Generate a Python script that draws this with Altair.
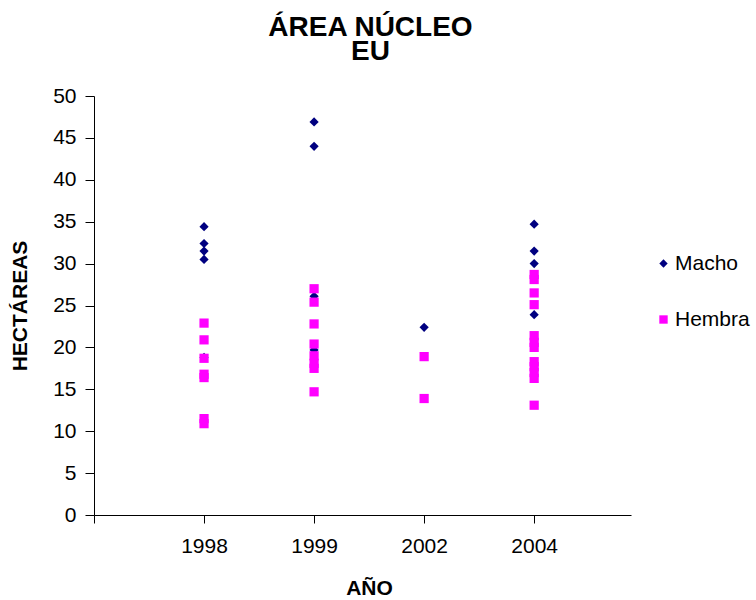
import altair as alt
import pandas as pd

years = ["1998", "1999", "2002", "2004"]

macho_1998 = [34.4, 32.4, 31.5, 30.5, 18.8]
macho_1999 = [46.9, 44.0, 26.1, 19.7]
macho_2002 = [22.4]
macho_2004 = [34.7, 31.5, 30.0, 23.9]

hembra_1998 = [22.9, 20.9, 18.7, 16.8, 16.4, 11.5, 10.9]
hembra_1999 = [27.0, 25.4, 22.8, 20.4, 19.0, 18.1, 17.5, 14.7]
hembra_2002 = [18.9, 13.9]
hembra_2004 = [28.7, 28.1, 26.5, 25.1, 21.4, 20.6, 20.0, 18.3, 17.7, 17.0, 16.3, 13.1]

macho = [macho_1998, macho_1999, macho_2002, macho_2004]
hembra = [hembra_1998, hembra_1999, hembra_2002, hembra_2004]

rows = []
for i, vals in enumerate(macho):
    for v in vals:
        rows.append({"pos": i + 1, "ha": v, "sexo": "Macho"})
for i, vals in enumerate(hembra):
    for v in vals:
        rows.append({"pos": i + 1, "ha": v, "sexo": "Hembra"})
df = pd.DataFrame(rows)

FONT = "Liberation Sans"
label_expr = "datum.value == 0 ? '' : " + str([""] + years) + "[datum.value]"

leg = alt.Legend(title=None, orient="none", legendX=559, legendY=157,
                 labelFontSize=21, labelFont=FONT, labelColor="#000000",
                 symbolSize=70, labelOffset=1, rowPadding=34, padding=0)

chart = alt.Chart(df).mark_point(filled=True, opacity=1, size=85).encode(
    x=alt.X("pos:Q",
            scale=alt.Scale(domain=[0, 4.88], nice=False, zero=False),
            axis=alt.Axis(values=[0, 1, 2, 3, 4], labelExpr=label_expr, title="AÑO",
                          grid=False, tickSize=8, labelPadding=12, titlePadding=21,
                          titleX=275)),
    y=alt.Y("ha:Q",
            scale=alt.Scale(domain=[0, 50], nice=False),
            axis=alt.Axis(values=list(range(0, 51, 5)), title="HECTÁREAS",
                          grid=False, tickSize=9, labelPadding=9, titlePadding=22)),
    color=alt.Color("sexo:N",
                    scale=alt.Scale(domain=["Macho", "Hembra"], range=["#000080", "#FF00FF"]),
                    legend=leg),
    shape=alt.Shape("sexo:N",
                    scale=alt.Scale(domain=["Macho", "Hembra"], range=["diamond", "square"]),
                    legend=leg),
).properties(
    width=537,
    height=419,
    autosize="none",
    background="white",
    padding={"left": 94, "top": 96, "right": 125, "bottom": 85},
    title=alt.Title(["ÁREA NÚCLEO", "EU"], fontSize=28, font=FONT, fontWeight="bold",
                    lineHeight=24, anchor="middle", offset=19, dx=8, color="#000000"),
).configure_view(stroke=None).configure_axis(
    labelFont=FONT, labelFontSize=21, labelColor="#000000",
    titleFont=FONT, titleFontSize=21, titleFontWeight="bold", titleColor="#000000",
    domainColor="#000000", tickColor="#000000", domainWidth=1, tickWidth=1,
)

chart.save("out.html", embed_options={"renderer": "svg", "actions": False})
